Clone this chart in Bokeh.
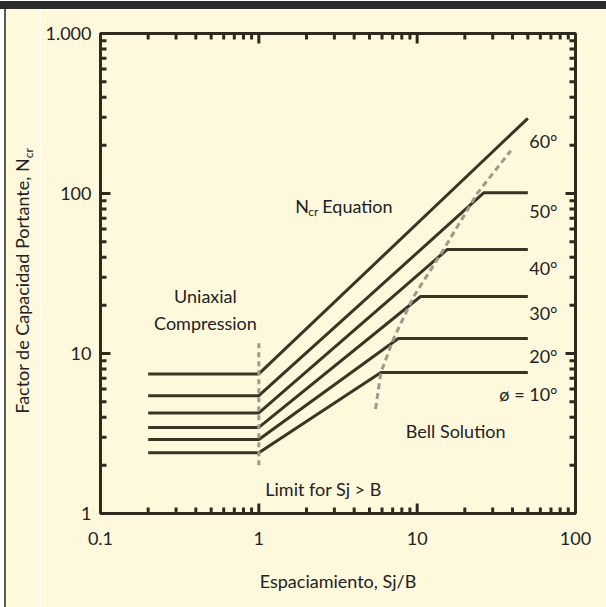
import math
from bokeh.plotting import figure
from bokeh.models import FixedTicker, CustomJSTickFormatter, Label, Div
from bokeh.layouts import column, row
from bokeh.embed import file_html
from bokeh.resources import INLINE

# ---------------- data ----------------
phi_labels = ["ø = 10°", "20°", "30°", "40°", "50°", "60°"]
phi_label_y = [5.6, 9.7, 17.8, 34.0, 78.0, 214.0]
plateau_x = [0.2, 1.0]                         # uniaxial compression plateau
plateau_n = [2.4, 2.9, 3.45, 4.25, 5.45, 7.45]  # Ncr on the plateau
bell_start_x = [5.9, 7.6, 10.5, 15.5, 26.3]     # where Bell cap begins (10..50 deg)
bell_cap_n = [7.6, 12.4, 22.7, 44.7, 101.0]     # Bell cap values (10..50 deg)
end_x = 50.0
end_n60 = 295.0                                 # 60 deg line at Sj/B = 50
bell_curve_x = [5.46, 5.9, 7.1, 9.5, 14.7, 24.1, 39.0]
bell_curve_n = [4.5, 7.6, 12.4, 22.7, 44.7, 101.0, 185.0]
limit_x = [1.0, 1.0]
limit_n = [2.0, 12.0]
x_ticks = [0.1, 1, 10, 100]
x_tick_labels = ["0.1", "1", "10", "100"]
y_ticks = [1, 10, 100, 1000]
y_tick_labels = ["1", "10", "100", "1.000"]
minor_mult = [2, 3, 4, 5, 6, 7, 8, 9]

# ---------------- styling ----------------
BG = "#fef9dd"
INK = "#3a3424"
TICK = "#2e2a1e"
DASH = "#9d998c"
TXT = "#222222"
FONT = "Lato"
FS = "18px"

GUTTER = 40              # left strip holding the page rule and the y title
BAND = 9                 # dark band at the top of the page
W, H = 606 - GUTTER, 607 - BAND
BL, BR, BT, BB = 100 - GUTTER, 31, 33 - BAND, 94
X0, X1, Y0, Y1 = 0.1, 100, 1, 1000
p = figure(width=W, height=H, x_axis_type="log", y_axis_type="log",
           x_range=(X0, X1), y_range=(Y0, Y1),
           output_backend="svg", toolbar_location=None,
           min_border_left=BL, min_border_right=BR,
           min_border_top=BT, min_border_bottom=BB)
p.margin = 0
p.background_fill_color = BG
p.border_fill_color = BG
p.outline_line_color = TICK
p.outline_line_width = 3
p.grid.visible = False

x_minor = [m * t for t in x_ticks[:-1] for m in minor_mult]
y_minor = [m * t for t in y_ticks[:-1] for m in minor_mult]
xticker = FixedTicker(ticks=x_ticks, minor_ticks=x_minor)
yticker = FixedTicker(ticks=y_ticks, minor_ticks=y_minor)
fmt_code = "const i = vals.indexOf(tick); return i >= 0 ? labs[i] : '';"
xfmt = CustomJSTickFormatter(args=dict(vals=x_ticks, labs=x_tick_labels), code=fmt_code)
yfmt = CustomJSTickFormatter(args=dict(vals=y_ticks, labs=y_tick_labels), code=fmt_code)

for ax, tk, fm in ((p.xaxis[0], xticker, xfmt), (p.yaxis[0], yticker, yfmt)):
    ax.ticker = tk
    ax.formatter = fm
    ax.axis_line_color = None
    ax.major_tick_line_color = None
    ax.minor_tick_line_color = None
    ax.major_tick_out = 0
    ax.minor_tick_out = 0
    ax.major_label_text_font = FONT
    ax.major_label_text_font_size = FS
    ax.major_label_text_color = TXT

xa = p.xaxis[0]
xa.major_label_standoff = 18
xa.axis_label = "Espaciamiento, Sj/B"
xa.axis_label_text_font = FONT
xa.axis_label_text_font_style = "normal"
xa.axis_label_text_font_size = FS
xa.axis_label_text_color = TXT
xa.axis_label_standoff = 22
p.yaxis[0].major_label_standoff = 9

# inward ticks on all four edges, drawn as polylines; pixel length -> log factor
px_per_dec_x = (W - BL - BR) / math.log10(X1 / X0)
px_per_dec_y = (H - BT - BB) / math.log10(Y1 / Y0)
for ticks_, ln, lw in ((x_ticks, 10, 3), (x_minor, 6, 3)):
    f = 10 ** (ln / px_per_dec_y)
    xs_l = [[t, t] for t in ticks_] * 2
    ys_l = [[Y0, Y0 * f] for _ in ticks_] + [[Y1, Y1 / f] for _ in ticks_]
    p.multi_line(xs=xs_l, ys=ys_l, line_color=TICK, line_width=lw)
for ticks_, ln, lw in ((y_ticks, 10, 3), (y_minor, 6, 3)):
    f = 10 ** (ln / px_per_dec_x)
    ys_l = [[t, t] for t in ticks_] * 2
    xs_l = [[X0, X0 * f] for _ in ticks_] + [[X1, X1 / f] for _ in ticks_]
    p.multi_line(xs=xs_l, ys=ys_l, line_color=TICK, line_width=lw)

# ---------------- curves ----------------
for i, n0 in enumerate(plateau_n):
    if i < len(bell_start_x):
        xs = plateau_x + [bell_start_x[i], end_x]
        ys = [n0, n0, bell_cap_n[i], bell_cap_n[i]]
    else:
        xs = plateau_x + [end_x]
        ys = [n0, n0, end_n60]
    p.line(xs, ys, line_color=INK, line_width=3)

p.line(bell_curve_x, bell_curve_n, line_color=DASH, line_width=3, line_dash="6 4")
p.line(limit_x, limit_n, line_color=DASH, line_width=3, line_dash="5 4")

# ---------------- annotations ----------------
def lab(x, y, t, align="left", size=FS, xo=0, yo=0):
    p.add_layout(Label(x=x, y=y, text=t, text_font=FONT, text_font_size=size,
                       text_color=TXT, text_align=align, text_baseline="middle",
                       x_offset=xo, y_offset=yo))

for t, yv in zip(phi_labels, phi_label_y):
    lab(77, yv, t, align="right")

lab(0.46, 23, "Uniaxial", align="center")
lab(0.46, 15.6, "Compression", align="center")
lab(1.7, 83, "N", align="left")
lab(1.7, 83, "cr", align="left", size="12px", xo=13, yo=-5)
lab(1.7, 83, "Equation", align="left", xo=27)
lab(17.5, 3.3, "Bell Solution", align="center")
lab(2.56, 1.43, "Limit for Sj > B", align="center")

# ---------------- page frame, y title (HTML so the subscript is real text) ----------------
top_band = Div(text="", width=606, height=BAND, margin=0,
               styles={"background": "linear-gradient(to bottom, #ffffff 0px, #ffffff 1px, "
                                     "#2b2b2b 1px, #2b2b2b %dpx)" % BAND})
title_html = (
    '<div style="position:relative;width:%dpx;height:%dpx;background:%s;overflow:hidden;">'
    '<div style="position:absolute;left:0px;top:0px;width:4px;height:%dpx;background:#ffffff;"></div>'
    '<div style="position:absolute;left:4px;top:0px;width:2px;height:%dpx;background:#5a5a5a;"></div>'
    '<div style="position:absolute;left:24px;top:272px;transform:translate(-50%%,-50%%) rotate(-90deg);'
    'white-space:nowrap;font-family:Lato;font-size:18px;color:%s;line-height:1;">'
    'Factor de Capacidad Portante, N<sub style="font-size:12px;">cr</sub></div></div>'
) % (GUTTER, H, BG, H, H, TXT)
gutter = Div(text=title_html, width=GUTTER, height=H, margin=0)
page = column(top_band, row(gutter, p, spacing=0), spacing=0)

open("out.html", "w").write(file_html(page, INLINE))
